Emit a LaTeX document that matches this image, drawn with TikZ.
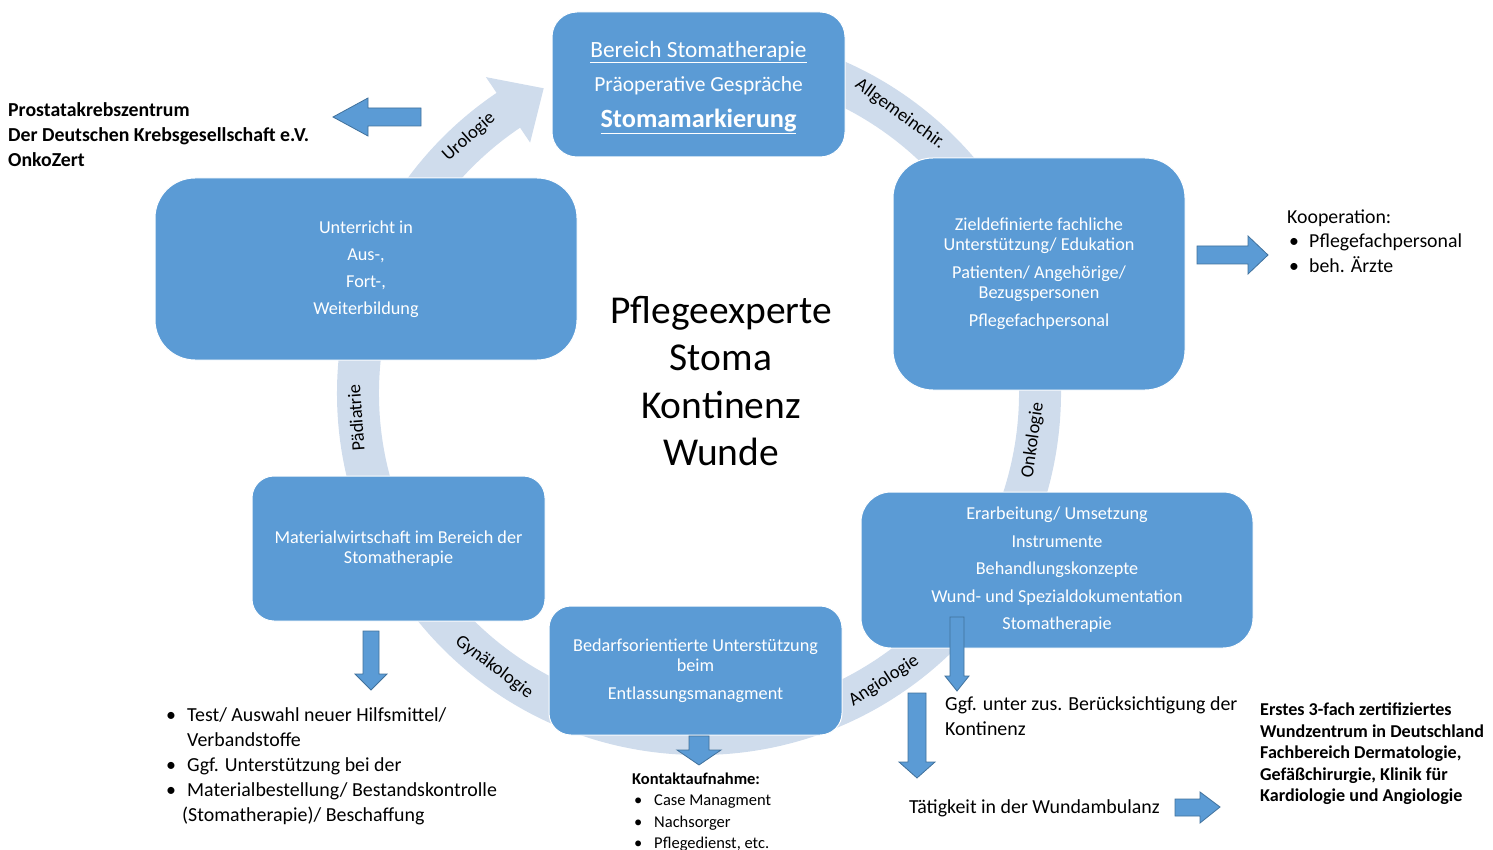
\documentclass[tikz,border=0pt]{standalone}
\usepackage{fontspec}
\setmainfont{Carlito}
\usetikzlibrary{calc}
\definecolor{boxblue}{RGB}{91,155,213}
\definecolor{arrowline}{RGB}{65,113,156}
\definecolor{ringblue}{RGB}{207,220,236}
\tikzset{
	pbox/.style={rectangle, fill=boxblue, draw=white, line width=1pt, text=white, align=center, inner sep=0pt, font=\fontsize{18.2}{20}\selectfont},
	blockarr/.style={fill=boxblue, draw=arrowline, line width=0.8pt},
	ringlabel/.style={inner sep=0pt, font=\fontsize{18.5}{20}\selectfont},
	sidetext/.style={inner sep=0pt, anchor=west, align=left, font=\fontsize{19.9}{25}\selectfont},
}

\begin{document}
\begin{tikzpicture}[x=1pt, y=-1pt]
			%%%%% START %%%%%
			\useasboundingbox (0,0) rectangle (1493,850);
			\coordinate (ringc) at (699,393);
			
			% ring with head at Urologie
			\fill[ringblue] ($(ringc)+(-85:362)$) arc[start angle=-85, end angle=236, radius=362]
				-- ($(ringc)+(236:381)$) -- ($(ringc)+(243:342)$) -- ($(ringc)+(236:302)$)
				-- ($(ringc)+(236:320)$) arc[start angle=236, end angle=-85, radius=320] -- cycle;
			
			\node[ringlabel, rotate=42] (uro) at (469,137) {Urologie};
			\node[ringlabel, rotate=-36] (allg) at (900,114) {Allgemeinchir.};
			\node[ringlabel, rotate=82] (onko) at (1033,440) {Onkologie};
			\node[ringlabel, rotate=33] (angio) at (884,681) {Angiologie};
			\node[ringlabel, rotate=-37] (gyn) at (494,667) {Gynäkologie};
			\node[ringlabel, rotate=94] (paed) at (356,418) {Pädiatrie};
			
			% boxes
			\node[pbox, rounded corners=25pt, minimum width=293pt, minimum height=145pt] (stoma) at (698.5,84.5) {};
			\node[align=center, inner sep=0pt, text=white, font=\fontsize{23.3}{26}\selectfont] (stomatext) at (698.5,87.5)
				{\underline{Bereich Stomatherapie}\\[8pt]
				\fontsize{21.5}{26}\selectfont Präoperative Gespräche\\[10pt]
				\fontsize{26.3}{30}\selectfont\bfseries\underline{Stomamarkierung}};
			\node[pbox, rounded corners=40pt, minimum width=292pt, minimum height=232pt] (edukation) at (1039,274)
				{Zieldefinierte fachliche\\Unterstützung/ Edukation\\[8pt]Patienten/ Angehörige/\\Bezugspersonen\\[8pt]Pflegefachpersonal};
			\node[pbox, rounded corners=40pt, minimum width=422pt, minimum height=182pt] (unterricht) at (366,269)
				{Unterricht in\\[7pt]Aus-,\\[7pt]Fort-,\\[7pt]Weiterbildung};
			\node[pbox, rounded corners=30pt, minimum width=392pt, minimum height=156pt] (instrumente) at (1057,570)
				{Erarbeitung/ Umsetzung\\[7.5pt]Instrumente\\[7.5pt]Behandlungskonzepte\\[7.5pt]Wund- und Spezialdokumentation\\[7.5pt]Stomatherapie};
			\node[pbox, rounded corners=22pt, minimum width=293pt, minimum height=145pt] (material) at (398.5,548.5)
				{Materialwirtschaft im Bereich der\\Stomatherapie};
			\node[pbox, rounded corners=22pt, minimum width=293pt, minimum height=129pt] (entlassung) at (695.5,670.5)
				{Bedarfsorientierte Unterstützung\\beim\\[8pt]Entlassungsmanagment};
			
			\node[align=center, inner sep=0pt, font=\fontsize{39.5}{47.5}\selectfont] (expert) at (721,381)
				{Pflegeexperte\\Stoma\\Kontinenz\\Wunde};
			
			% block arrows
			\draw[blockarr] (421,108) -- (368,108) -- (368,98) -- (333,117) -- (368,136) -- (368,126) -- (421,126) -- cycle;
			\draw[blockarr] (1197,246) -- (1248,246) -- (1248,236) -- (1268,255) -- (1248,274) -- (1248,264) -- (1197,264) -- cycle;
			\draw[blockarr] (363,631) -- (379,631) -- (379,674) -- (387,674) -- (371,690) -- (355,674) -- (363,674) -- cycle;
			\draw[blockarr] (689,736) -- (709,736) -- (709,750) -- (721,750) -- (699,765) -- (677,750) -- (689,750) -- cycle;
			\draw[blockarr] (950,617) -- (964,617) -- (964,676) -- (969,676) -- (957,691) -- (945,676) -- (950,676) -- cycle;
			\draw[blockarr] (908,693) -- (926,693) -- (926,762) -- (935,762) -- (917,778) -- (899,762) -- (908,762) -- cycle;
			\draw[blockarr] (1175,799) -- (1200,799) -- (1200,792) -- (1220,807) -- (1200,823) -- (1200,816) -- (1175,816) -- cycle;
			
			% side texts
			\node[sidetext, font=\fontsize{19.8}{25}\selectfont\bfseries] (prostata) at (8,135)
				{Prostatakrebszentrum\\Der Deutschen Krebsgesellschaft e.V.\\OnkoZert};
			\node[sidetext, font=\fontsize{19.8}{24.5}\selectfont] (kooperation) at (1287,241)
				{Kooperation:\\\makebox[22pt][l]{\hspace{2pt}\textbullet}Pflegefachpersonal\\\makebox[22pt][l]{\hspace{2pt}\textbullet}beh. Ärzte};
			\node[sidetext] (materiallist) at (166,766)
				{\makebox[21pt][l]{\textbullet}Test/ Auswahl neuer Hilfsmittel/\\\hspace*{21pt}Verbandstoffe\\\makebox[21pt][l]{\textbullet}Ggf. Unterstützung bei der\\\makebox[21pt][l]{\textbullet}Materialbestellung/ Bestandskontrolle\\\hspace*{16pt}(Stomatherapie)/ Beschaffung};
			\node[sidetext, font=\fontsize{16.5}{21.5}\selectfont] (kontakt) at (632,812)
				{\textbf{Kontaktaufnahme:}\\\makebox[22pt][l]{\hspace{2pt}\textbullet}Case Managment\\\makebox[22pt][l]{\hspace{2pt}\textbullet}Nachsorger\\\makebox[22pt][l]{\hspace{2pt}\textbullet}Pflegedienst, etc.};
			\node[sidetext] (kontinenz) at (945,716)
				{Ggf. unter zus. Berücksichtigung der\\Kontinenz};
			\node[sidetext] (wundamb) at (909,808) {Tätigkeit in der Wundambulanz};
			\node[sidetext, font=\fontsize{18.1}{21.5}\selectfont\bfseries] (wundzentrum) at (1260,754)
				{Erstes 3-fach zertifiziertes\\Wundzentrum in Deutschland\\Fachbereich Dermatologie,\\Gefäßchirurgie, Klinik für\\Kardiologie und Angiologie};
			%%%%% END %%%%%
\end{tikzpicture}
\end{document}
